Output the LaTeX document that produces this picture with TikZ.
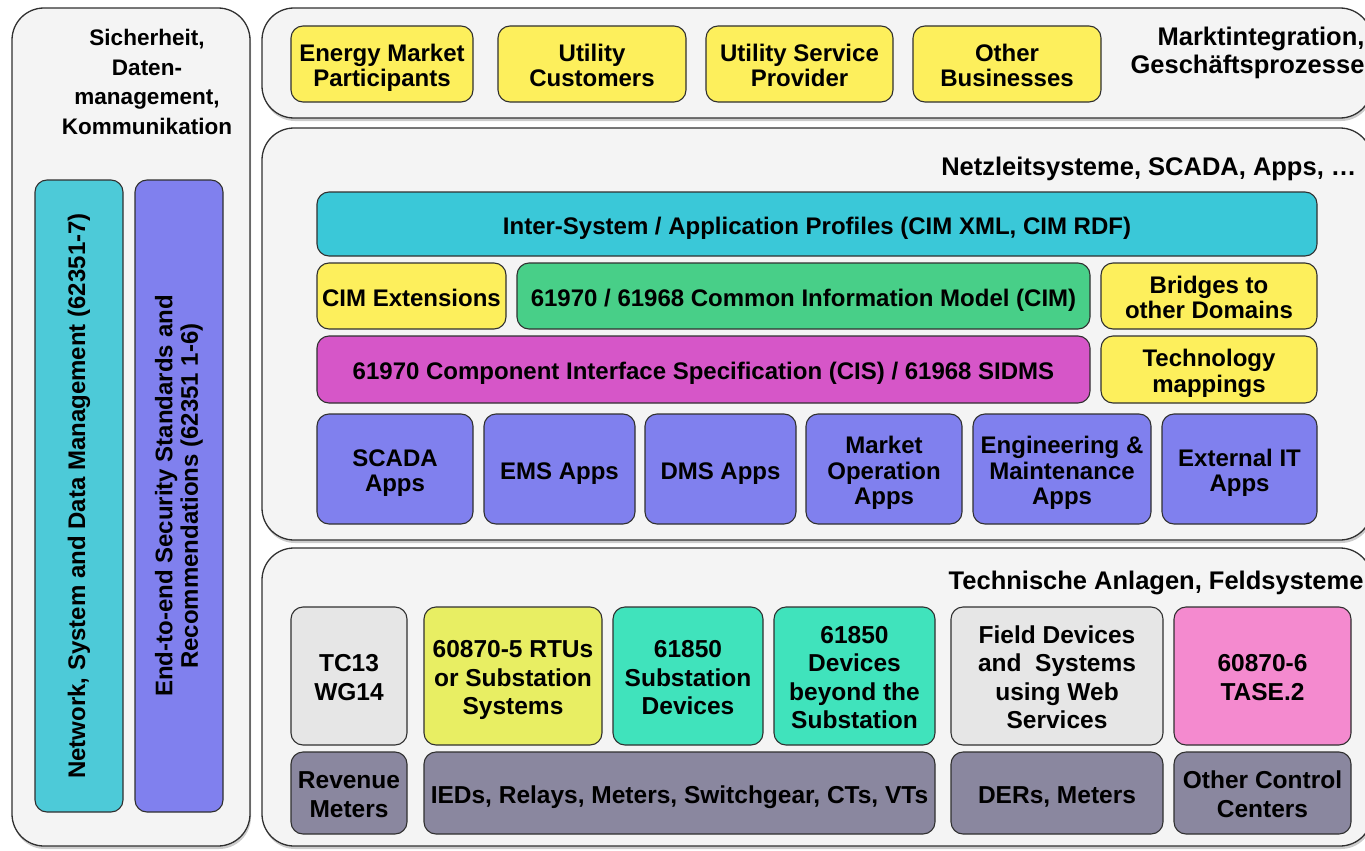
\documentclass[tikz,border=0pt]{standalone}
\usepackage{fontspec}
\setmainfont{Liberation Sans}
\usetikzlibrary{fit,shadows}
\definecolor{panelgray}{HTML}{F4F4F4}
\definecolor{edge}{HTML}{303030}
\definecolor{ylw}{HTML}{FDEF5C}
\definecolor{cyanbar}{HTML}{4DCAD8}
\definecolor{cyanbox}{HTML}{3AC8D8}
\definecolor{grn}{HTML}{48CF88}
\definecolor{mgnt}{HTML}{D656C8}
\definecolor{appblue}{HTML}{8080EE}
\definecolor{limey}{HTML}{E8EE63}
\definecolor{teal}{HTML}{40E3BC}
\definecolor{ltgray}{HTML}{E6E6E6}
\definecolor{pnk}{HTML}{F48ACF}
\definecolor{slate}{HTML}{8A879F}
\tikzset{
  panel/.style={draw=edge, line width=1.3pt, fill=panelgray, rounded corners=32pt, inner sep=0pt,
    drop shadow={shadow xshift=1pt, shadow yshift=-3pt, opacity=0.4}},
  blk/.style={draw=edge, line width=1.1pt, rounded corners=12pt, inner sep=0pt, align=flush center,
    font=\bfseries\fontsize{24}{25.5}\selectfont,
    execute at begin node={\rule{0pt}{26pt}},
    execute at end node={\rule[-6pt]{0pt}{6pt}}},
  fblk/.style={blk, font=\bfseries\fontsize{24.5}{28.5}\selectfont},
  vtxt/.style={inner sep=0pt, align=center, rotate=90, font=\bfseries\fontsize{24}{25.5}\selectfont},
  sz/.style 2 args={minimum width=#1, minimum height=#2, text width=#1pt},
  ttl/.style={font=\bfseries\fontsize{22.5}{29.7}\selectfont, align=center},
  rttl/.style={font=\bfseries\fontsize{25.5}{28}\selectfont, align=right, anchor=east},
}
\begin{document}
\begin{tikzpicture}[x=1pt, y=-1pt]
  \useasboundingbox (0,0) rectangle (1365,851);
  %%%%% PANELS %%%%%
  \node[panel, fit={(12,8) (250,846)}] (sec) {};
  \node[panel, fit={(262,8) (1372,118)}] (market) {};
  \node[panel, fit={(262,128) (1372,540)}] (ctrl) {};
  \node[panel, fit={(262,548) (1372,846)}] (field) {};

  %%%%% LEFT %%%%%
  \node[ttl] (sectitle) at (147,82) {Sicherheit,\\Daten-\\management,\\Kommunikation};
  \node[blk, fill=cyanbar, sz={88}{632}] (netbar) at (79,496) {};
  \node[vtxt] (nettxt) at (netbar.center) {Network, System and Data Management (62351-7)};
  \node[blk, fill=appblue, sz={88}{632}] (e2ebar) at (179,496) {};
  \node[vtxt] (e2etxt) at (e2ebar.center)
    {End-to-end Security Standards and\\Recommendations (62351 1-6)};

  %%%%% MARKET %%%%%
  \node[rttl] (markettitle) at (1368,53) {Marktintegration,\\Geschäftsprozesse};
  \node[blk, fill=ylw, sz={182}{76}] (emp) at (382,64) {Energy Market\\Participants};
  \node[blk, fill=ylw, sz={188}{76}] (ucust) at (592,64) {Utility\\Customers};
  \node[blk, fill=ylw, sz={187}{76}] (usp) at (799.5,64) {Utility Service\\Provider};
  \node[blk, fill=ylw, sz={188}{76}] (obiz) at (1007,64) {Other\\Businesses};

  %%%%% CONTROL %%%%%
  \node[rttl] (ctrltitle) at (1360,168.5) {Netzleitsysteme, SCADA, Apps, …};
  \node[blk, fill=cyanbox, sz={1000}{64}] (profiles) at (817,224) {Inter-System / Application Profiles (CIM XML, CIM RDF)};
  \node[blk, fill=ylw, sz={189}{66}] (cimext) at (411.5,296) {CIM Extensions};
  \node[blk, fill=grn, sz={573}{66}] (cim) at (803.5,296) {61970 / 61968 Common Information Model (CIM)};
  \node[blk, fill=ylw, sz={216}{66}] (bridges) at (1209,296) {Bridges to\\other Domains};
  \node[blk, fill=mgnt, sz={773}{67}] (cis) at (703.5,369.5) {61970 Component Interface Specification (CIS) / 61968 SIDMS};
  \node[blk, fill=ylw, sz={216}{67}] (techmap) at (1209,369.5) {Technology\\mappings};
  \node[blk, fill=appblue, sz={156}{110}] (scada) at (395,469) {SCADA\\Apps};
  \node[blk, fill=appblue, sz={151}{110}] (ems) at (559.5,469) {EMS Apps};
  \node[blk, fill=appblue, sz={151}{110}] (dms) at (720.5,469) {DMS Apps};
  \node[blk, fill=appblue, sz={156}{110}] (mop) at (884,469) {Market\\Operation\\Apps};
  \node[blk, fill=appblue, sz={178}{110}] (engm) at (1062,469) {Engineering \&\\Maintenance\\Apps};
  \node[blk, fill=appblue, sz={155}{110}] (extit) at (1239.5,469) {External IT\\Apps};

  %%%%% FIELD %%%%%
  \node[rttl] (fieldtitle) at (1367,583) {Technische Anlagen, Feldsysteme};
  \node[fblk, fill=ltgray, sz={116}{138}] (tc13) at (349,676) {TC13\\WG14};
  \node[fblk, fill=limey, sz={178}{138}] (rtu) at (513,676) {60870-5 RTUs\\or Substation\\Systems};
  \node[fblk, fill=teal, sz={150}{138}] (subdev) at (688,676) {61850\\Substation\\Devices};
  \node[fblk, fill=teal, sz={161}{138}] (beyond) at (854.5,676) {61850\\Devices\\beyond the\\Substation};
  \node[fblk, fill=ltgray, sz={212}{138}] (websvc) at (1057,676) {Field Devices\\and~ Systems\\using Web\\Services};
  \node[fblk, fill=pnk, sz={177}{138}] (tase) at (1262.5,676) {60870-6\\TASE.2};
  \node[fblk, fill=slate, sz={116}{82}] (revm) at (349,793) {Revenue\\Meters};
  \node[fblk, fill=slate, sz={511}{82}] (ieds) at (679.5,793) {IEDs, Relays, Meters, Switchgear, CTs, VTs};
  \node[fblk, fill=slate, sz={212}{82}] (ders) at (1057,793) {DERs, Meters};
  \node[fblk, fill=slate, sz={177}{82}] (occ) at (1262.5,793) {Other Control\\Centers};
\end{tikzpicture}
\end{document}
